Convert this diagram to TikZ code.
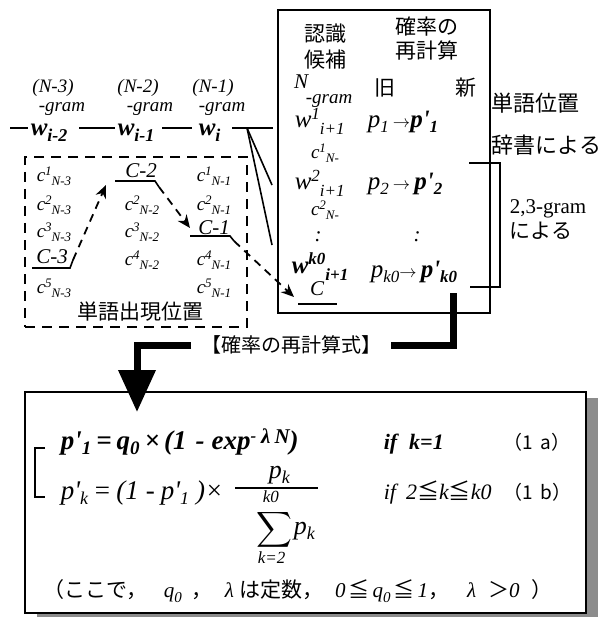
\documentclass[tikz,border=0pt]{standalone}
\usepackage{amsmath}
\usepackage{fontspec}
\setmainfont{Liberation Serif}
\newfontfamily\jpfont{Noto Sans CJK JP}
\usetikzlibrary{arrows.meta}

% raised or lowered index: shift, size, text
\newcommand{\idx}[3]{\raisebox{#1pt}{\fontsize{#2}{#2}\selectfont #3}}
\newcommand{\lt}[1]{{\rmfamily\itshape #1}}
\newcommand{\pr}{\textquotesingle}

\tikzset{
  jptext/.style={font=\jpfont\fontsize{21}{26}\selectfont, inner sep=0pt, align=center},
  itext/.style={font=\itshape\fontsize{19}{22}\selectfont, inner sep=0pt},
  word/.style={font=\bfseries\itshape\fontsize{25}{25}\selectfont, inner sep=0pt, anchor=base west},
  wrd/.style={font=\itshape\fontsize{25}{25}\selectfont, inner sep=0pt, anchor=base west},
  cand/.style={font=\itshape\fontsize{19}{19}\selectfont, inner sep=0pt},
  big/.style={font=\itshape\fontsize{21}{21}\selectfont, inner sep=0pt},
  eq/.style={font=\itshape\fontsize{26}{26}\selectfont, inner sep=0pt, anchor=base west},
  flow/.style={dash pattern=on 8pt off 6pt, line width=1.8pt, -{Stealth[length=13pt,width=11pt]}},
  fat/.style={line width=7pt, line join=miter},
}

\begin{document}
\begin{tikzpicture}[x=1pt,y=-1pt,>=Stealth,line width=1.6pt]
  \useasboundingbox (0,0) rectangle (615,617);

  % Word chain
  \node[itext] (na) at (53,88) {(N-3)};
  \node[itext] (ga) at (62,109) {-gram};
  \node[itext] (nb) at (138,88) {(N-2)};
  \node[itext] (gb) at (150,109) {-gram};
  \node[itext] (nc) at (213,88) {(N-1)};
  \node[itext] (gc) at (222,109) {-gram};
  \node[word] (wa) at (30,136) {w\idx{-6}{18}{i-2}};
  \node[word] (wb) at (117,136) {w\idx{-6}{18}{i-1}};
  \node[word] (wc) at (198,136) {w\idx{-6}{18}{i}};
  \coordinate (wl) at (10,128);
  \coordinate (wr) at (273,128);
  \coordinate (fan) at (247,128);
  \coordinate (f1) at (272,185);
  \coordinate (f2) at (272,245);
  \draw[shorten >=2pt] (wl) -- (wl -| wa.west);
  \draw[shorten <=11pt,shorten >=2pt] (wa.east |- wl) -- (wb.west |- wl);
  \draw[shorten <=7pt,shorten >=6pt] (wb.east |- wl) -- (wc.west |- wl);
  \draw[shorten <=11pt] (wc.east |- wr) -- (wr);
  \draw (fan) -- (f1);
  \draw (fan) -- (f2);

  % Word positions
  \node[draw, dash pattern=on 10pt off 7pt, minimum width=222pt, minimum height=170pt, inner sep=0pt] (posbox) at (136,242) {};
  \node[jptext] (pos) at (140,312) {単語出現位置};
  \node[cand] (a1) at (54,176) {c\idx{6}{13}{1}\idx{-4}{13}{N-3}};
  \node[cand] (a2) at (54,205) {c\idx{6}{13}{2}\idx{-4}{13}{N-3}};
  \node[cand] (a3) at (54,232) {c\idx{6}{13}{3}\idx{-4}{13}{N-3}};
  \node[big] (a4) at (52,257) {C-3};
  \node[cand] (a5) at (54,288) {c\idx{6}{13}{5}\idx{-4}{13}{N-3}};
  \node[big] (b1) at (141,171) {C-2};
  \node[cand] (b2) at (142,205) {c\idx{6}{13}{2}\idx{-4}{13}{N-2}};
  \node[cand] (b3) at (142,232) {c\idx{6}{13}{3}\idx{-4}{13}{N-2}};
  \node[cand] (b4) at (142,260) {c\idx{6}{13}{4}\idx{-4}{13}{N-2}};
  \node[cand] (c1) at (214,176) {c\idx{6}{13}{1}\idx{-4}{13}{N-1}};
  \node[cand] (c2) at (214,205) {c\idx{6}{13}{2}\idx{-4}{13}{N-1}};
  \node[big] (c3) at (214,228) {C-1};
  \node[cand] (c4) at (214,260) {c\idx{6}{13}{4}\idx{-4}{13}{N-1}};
  \node[cand] (c5) at (214,288) {c\idx{6}{13}{5}\idx{-4}{13}{N-1}};

  % Underlines and path
  \coordinate (u3) at (73,260);
  \coordinate (u2) at (159,187);
  \coordinate (u1) at (234,241);
  \coordinate (u0) at (298,304);
  \coordinate (t2) at (106,185);
  \coordinate (t1) at (190,228);
  \coordinate (t0) at (294,297);
  \draw (32,268) -- (70,268) -- (u3);
  \draw (115,181) -- (155,181) -- (u2);
  \draw (190,236) -- (230,236) -- (u1);
  \draw (u0) -- (337,304);
  \draw[flow] (u3) -- (t2);
  \draw[flow] (u2) -- (t1);
  \draw[flow] (u1) -- (t0);

  % Candidates
  \node[draw, minimum width=212pt, minimum height=303pt, inner sep=0pt] (rbox) at (384,161.5) {};
  \node[jptext] (hd1) at (325,47) {認識\\候補};
  \node[jptext, font=\jpfont\fontsize{21}{24}\selectfont] (hd2) at (427,39) {確率の\\再計算};
  \node[big] (hn) at (301,82) {N};
  \node[itext] (hg) at (329,101) {-gram};
  \node[jptext] (old) at (385,88) {旧};
  \node[jptext] (new) at (466,88) {新};
  \node[wrd] (r1) at (294,128) {w\idx{8}{17}{1}\idx{-7}{17}{i+1}};
  \node[wrd] (p1) at (367,128) {p\idx{-5}{17}{1}\,{\fontsize{18}{18}\selectfont$\rightarrow$}\textbf{p\pr\idx{-5}{17}{1}}};
  \node[cand] (r1c) at (325,153) {c\idx{6}{13}{1}\idx{-4}{13}{N-}};
  \node[wrd] (r2) at (294,190) {w\idx{8}{17}{2}\idx{-7}{17}{i+1}};
  \node[wrd] (p2) at (367,190) {p\idx{-5}{17}{2}\,{\fontsize{18}{18}\selectfont$\rightarrow$}\,\textbf{p\pr\idx{-5}{17}{2}}};
  \node[cand] (r2c) at (325,210) {c\idx{6}{13}{2}\idx{-4}{13}{N-}};
  \node[big] (d1) at (318,237) {:};
  \node[big] (d2) at (417,237) {:};
  \node[word] (rk) at (291,273) {w\idx{9}{17}{k0}\idx{-7}{17}{i+1}};
  \node[wrd] (pk) at (370,277) {p\idx{-5}{17}{k0}{\fontsize{18}{18}\selectfont$\rightarrow$}\,\textbf{p\pr\idx{-5}{17}{k0}}};
  \node[big] (rc) at (317,289) {C};

  % Notes on the right
  \node[jptext, font=\jpfont\fontsize{22}{42}\selectfont, anchor=west, align=left] (dict) at (491,124) {単語位置\\辞書による};
  \draw (469,163) -- (500,163) -- (500,287) -- (470,287);
  \node[anchor=west, align=left, inner sep=0pt, font=\fontsize{21}{25}\selectfont] (gram) at (509,220) {2,3-gram\\{\jpfont による}};

  % Formula box
  \fill[black!45] (37,398) rectangle (598,625);
  \node[draw, fill=white, minimum width=561pt, minimum height=221pt, inner sep=0pt, line width=2pt] (formula) at (305.5,502.5) {};
  \node[jptext, font=\jpfont\fontsize{20}{20}\selectfont] (calc) at (291,345) {【確率の再計算式】};
  \coordinate (rtop) at (453,293);
  \coordinate (drop) at (137,412);
  \draw[fat, shorten >=9pt] (rtop) |- (calc.east);
  \draw[fat, shorten <=9pt, -{Triangle[length=42pt,width=36pt]}] (calc.west) -| (drop);

  \draw (45,448) -- (35,448) -- (35,497) -- (45,497);
  \node[eq, font=\bfseries\itshape\fontsize{27}{27}\selectfont] (e1) at (60,449) {p\pr\idx{-5}{19}{1}\hspace{5pt}=\hspace{5pt}q\idx{-5}{19}{0}\hspace{5pt}×\hspace{4pt}(1\hspace{9pt}-\hspace{7pt}exp\idx{8}{17}{-}\hspace{5pt}\idx{6}{21}{λ\hspace{4pt}N})};
  \node[eq, font=\bfseries\itshape\fontsize{22}{22}\selectfont] (if1) at (383,449) {if\hspace{12pt}k=1};
  \node[eq, font=\jpfont\fontsize{19}{19}\selectfont] (n1) at (503,449) {（1\hspace{7pt}a）};
  \node[eq, font=\itshape\fontsize{27}{27}\selectfont] (e2) at (60,499) {p\pr\idx{-5}{18}{k}\hspace{5pt}=\hspace{5pt}(1\hspace{7pt}-\hspace{6pt}p\pr\idx{-5}{18}{1}\hspace{7pt})×};
  \node[eq] (num) at (268,478) {p\idx{-5}{18}{k}};
  \draw[line width=1.2pt] (235,488) -- (318,488);
  \node[eq, font=\itshape\fontsize{17}{17}\selectfont] (top) at (262,502) {k0};
  \node[inner sep=0pt] (sum) at (274,530) {\fontsize{27}{27}\selectfont$\displaystyle\sum$};
  \node[eq] (den) at (293,534) {p\idx{-5}{18}{k}};
  \node[eq, font=\itshape\fontsize{17}{17}\selectfont] (bot) at (257,563) {k=2};
  \node[eq, font=\itshape\fontsize{22}{22}\selectfont] (if2) at (383,499) {if\hspace{10pt}2{\jpfont ≦}k{\jpfont ≦}k0};
  \node[eq, font=\jpfont\fontsize{19}{19}\selectfont] (n2) at (503,499) {（1\hspace{7pt}b）};
  \node[eq, font=\jpfont\fontsize{21}{21}\selectfont] (note) at (43,597) {（ここで，\hspace{16pt}\lt{q}\idx{-5}{15}{\lt{0}}\hspace{10pt}，\hspace{12pt}\lt{λ}\hspace{5pt}は定数，\hspace{12pt}\lt{0}\hspace{3pt}≦\hspace{3pt}\lt{q}\idx{-5}{15}{\lt{0}}\hspace{3pt}≦\hspace{3pt}\lt{1}，\hspace{18pt}\lt{λ}\hspace{12pt}＞\lt{0}\hspace{12pt}）};
\end{tikzpicture}
\end{document}
